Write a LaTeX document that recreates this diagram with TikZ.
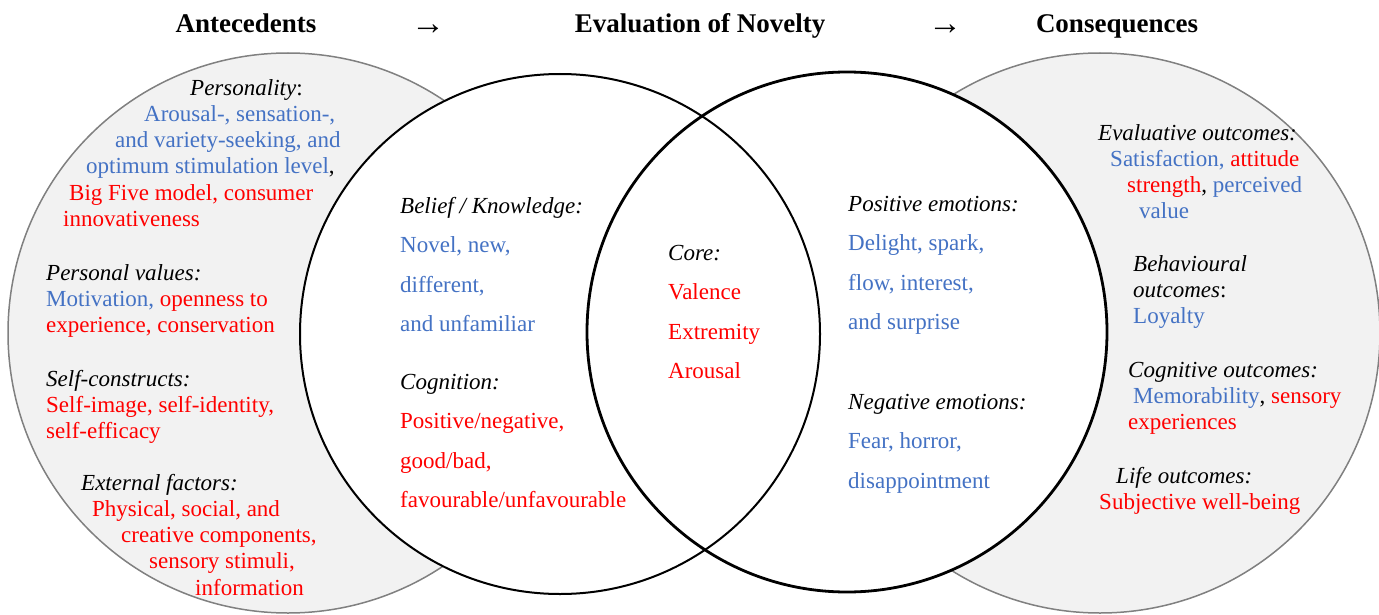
\documentclass[tikz,border=0pt]{standalone}
\usepackage{fontspec}
\setmainfont{Liberation Serif}
\definecolor{nblue}{HTML}{4472C4}
\definecolor{nred}{HTML}{FF0000}
\definecolor{ngrayfill}{HTML}{F2F2F2}
\definecolor{ngrayline}{HTML}{808080}
\newcommand{\bl}[1]{\textcolor{nblue}{#1}}
\newcommand{\rd}[1]{\textcolor{nred}{#1}}
\begin{document}
\begin{tikzpicture}[x=1pt,y=-1pt,
  head/.style={anchor=base,inner sep=0pt,font=\fontsize{27}{32}\selectfont\bfseries},
  arr/.style={anchor=base,inner sep=0pt,font=\fontsize{34}{40}\selectfont},
  outer/.style={fill=ngrayfill,draw=ngrayline,line width=1.5pt},
  tight/.style={anchor=base west,align=left,inner sep=0pt,font=\fontsize{23}{26.3}\selectfont},
  wide/.style={anchor=base west,align=left,inner sep=0pt,font=\fontsize{23}{39.6}\selectfont}]
\useasboundingbox (0,0) rectangle (1379,615);
\coordinate (L) at (288,333);
\coordinate (A) at (560,334);
\coordinate (B) at (847,332);
\coordinate (R) at (1100,333);
% outer grey circles
\draw[outer] (L) circle (280pt);
\draw[outer] (R) circle (280pt);
\fill[white] (A) circle (260pt);
\fill[white] (B) circle (260pt);
\draw[line width=2pt] (A) circle (260pt);
\draw[line width=2.8pt] (B) circle (260pt);
% headings (base anchor = last line of a block)
\node[head] (ante) at (246,33) {Antecedents};
\node[arr] (arr1) at (428,35) {→};
\node[head] (eval) at (700,33) {Evaluation of Novelty};
\node[arr] (arr2) at (945,35) {→};
\node[head] (cons) at (1117,33) {Consequences};
% antecedents
\node[tight] (pers) at (63,226.5) {\hspace*{127pt}\textit{Personality}:\\
  \hspace*{81pt}\bl{Arousal-, sensation-,}\\
  \hspace*{52pt}\bl{and variety-seeking, and}\\
  \hspace*{23pt}\bl{optimum stimulation level},\\
  \hspace*{6pt}\rd{Big Five model, consumer}\\
  \rd{innovativeness}};
\node[tight] (vals) at (46,332.6) {\textit{Personal values:}\\
  \bl{Motivation,} \rd{openness to}\\
  \rd{experience, conservation}};
\node[tight] (self) at (46,438.6) {\textit{Self-constructs:}\\
  \rd{Self-image, self-identity,}\\
  \rd{self-efficacy}};
\node[tight] (extf) at (81,595.2) {\textit{External factors:}\\
  \hspace*{11pt}\rd{Physical, social, and}\\
  \hspace*{40pt}\rd{creative components,}\\
  \hspace*{68pt}\rd{sensory stimuli,}\\
  \hspace*{114pt}\rd{information}};
% evaluation
\node[wide] (belf) at (400,331.8) {\textit{Belief / Knowledge:}\\
  \bl{Novel, new,}\\
  \bl{different,}\\
  \bl{and unfamiliar}};
\node[wide] (cogn) at (400,507.8) {\textit{Cognition:}\\
  \rd{Positive/negative,}\\
  \rd{good/bad,}\\
  \rd{favourable/unfavourable}};
\node[wide] (core) at (668,378.8) {\textit{Core:}\\
  \rd{Valence}\\
  \rd{Extremity}\\
  \rd{Arousal}};
\node[wide] (pose) at (848,329.8) {\textit{Positive emotions:}\\
  \bl{Delight, spark,}\\
  \bl{flow, interest,}\\
  \bl{and surprise}};
\node[wide] (nege) at (848,488.2) {\textit{Negative emotions:}\\
  \bl{Fear, horror,}\\
  \bl{disappointment}};
% consequences
\node[tight] (evo) at (1098,218.9) {\textit{Evaluative outcomes:}\\
  \hspace*{12pt}\bl{Satisfaction,} \rd{attitude}\\
  \hspace*{29pt}\rd{strength}, \bl{perceived}\\
  \hspace*{41pt}\bl{value}};
\node[tight] (beho) at (1133,323.6) {\textit{Behavioural}\\
  \textit{outcomes}:\\
  \bl{Loyalty}};
\node[tight] (cogo) at (1128,429.6) {\textit{Cognitive outcomes:}\\
  \hspace*{5pt}\bl{Memorability}, \rd{sensory}\\
  \rd{experiences}};
\node[tight] (life) at (1099,509.3) {\hspace*{17pt}\textit{Life outcomes:}\\
  \rd{Subjective well-being}};
\end{tikzpicture}
\end{document}
